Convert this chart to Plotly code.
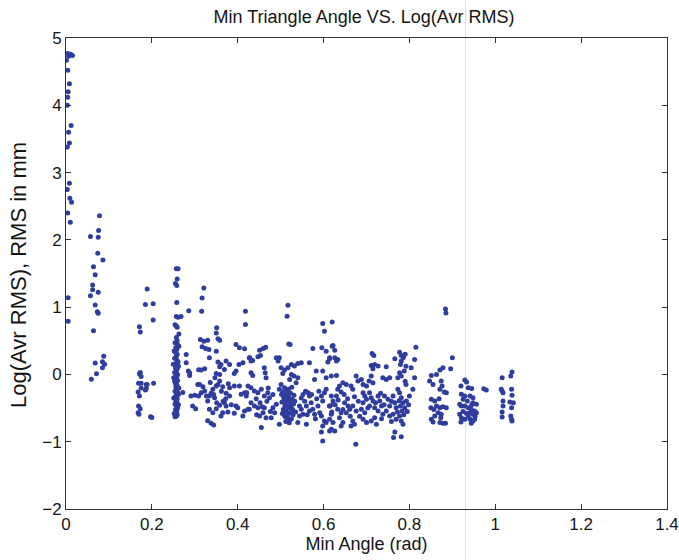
import plotly.graph_objects as go

# (min angle [rad], log(avr RMS)) pairs, grouped by angle band
band_near_zero = [
    (0.004, 4.77), (0.008, 4.75), (0.015, 4.74), (0.001, 4.67), (0.004, 4.52), (0.008, 4.32),
    (0.005, 4.20), (0.004, 4.12), (0.003, 4.00), (0.012, 3.70), (0.006, 3.60), (0.008, 3.44),
    (0.003, 3.38), (0.008, 2.84), (0.003, 2.75), (0.009, 2.62), (0.013, 2.56), (0.004, 2.40),
    (0.010, 2.26), (0.005, 1.14), (0.005, 0.79), (0.011, 4.76), (0.006, 4.73),
]
band_007 = [
    (0.078, 2.36), (0.076, 2.14), (0.057, 2.05), (0.075, 2.04), (0.074, 1.80), (0.086, 1.70),
    (0.064, 1.60), (0.068, 1.48), (0.062, 1.33), (0.062, 1.26), (0.057, 1.17), (0.075, 1.22),
    (0.068, 1.03), (0.073, 0.93), (0.075, 0.91), (0.064, 0.65), (0.088, 0.27), (0.068, 0.17),
    (0.085, 0.19), (0.090, 0.15), (0.085, 0.10), (0.071, 0.01), (0.059, -0.07),
]
band_018 = [
    (0.189, 1.27), (0.185, 1.04), (0.203, 1.05), (0.203, 0.81), (0.171, 0.71), (0.173, 0.63),
    (0.171, 0.01), (0.175, -0.03), (0.169, -0.13), (0.175, -0.13), (0.187, -0.15), (0.204, -0.13),
    (0.175, -0.20), (0.187, -0.21), (0.168, -0.26), (0.171, -0.32), (0.169, -0.47), (0.173, -0.51),
    (0.168, -0.57), (0.170, -0.59), (0.197, -0.63), (0.200, -0.64), (0.185, -0.23), (0.189, -0.15),
    (0.173, 0.03),
]
band_026 = [
    (0.257, 1.57), (0.261, 1.57), (0.259, 1.42), (0.255, 1.35), (0.258, 1.32), (0.258, 1.07),
    (0.257, 0.86), (0.261, 0.85), (0.254, 0.74), (0.257, 0.72), (0.259, 0.70), (0.257, 0.55),
    (0.259, 0.50), (0.254, 0.47), (0.260, 0.44), (0.256, 0.40), (0.258, 0.37), (0.255, 0.33),
    (0.259, 0.30), (0.257, 0.27), (0.253, 0.24), (0.258, 0.21), (0.261, 0.19), (0.256, 0.16),
    (0.258, 0.13), (0.255, 0.10), (0.259, 0.08), (0.257, 0.05), (0.253, 0.03), (0.260, 0.00),
    (0.256, -0.02), (0.258, -0.04), (0.254, -0.07), (0.260, -0.09), (0.257, -0.12), (0.255, -0.14),
    (0.259, -0.17), (0.256, -0.19), (0.258, -0.22), (0.254, -0.25), (0.260, -0.27), (0.257, -0.30),
    (0.255, -0.33), (0.259, -0.36), (0.256, -0.39), (0.258, -0.41), (0.254, -0.44), (0.257, -0.47),
    (0.260, -0.50), (0.255, -0.52), (0.258, -0.55), (0.256, -0.57), (0.259, -0.60), (0.257, -0.62),
    (0.254, -0.63), (0.268, 0.86),
    (0.263, 0.42), (0.252, 0.35), (0.262, 0.12), (0.251, -0.05), (0.263, -0.20), (0.251, -0.35),
    (0.262, -0.45), (0.252, -0.58), (0.263, 0.60), (0.250, 0.15), (0.262, -0.30), (0.253, -0.10),
]
band_028_043 = [
    (0.321, 1.284), (0.317, 1.136), (0.316, 0.938), (0.286, 0.948),
    (0.351, 0.692), (0.350, 0.617), (0.354, 0.529), (0.358, 0.509),
    (0.313, 0.519), (0.321, 0.494), (0.330, 0.509),
    (0.317, 0.41), (0.325, 0.385), (0.333, 0.37), (0.35, 0.346),
    (0.28, 0.297), (0.28, 0.173), (0.334, 0.247),
    (0.354, 0.183), (0.361, 0.148), (0.358, 0.114), (0.373, 0.198), (0.381, 0.148), (0.369, 0.074),
    (0.396, 0.445), (0.404, 0.395), (0.416, 0.38),
    (0.418, 0.938), (0.418, 0.741),
    (0.428, 0.247), (0.412, 0.173), (0.403, 0.148), (0.396, 0.05), (0.392, 0.015),
    (0.288, 0.025), (0.288, -0.015), (0.315, 0.064), (0.323, 0.084), (0.35, 0.015), (0.358, 0.0),
    (0.311, -0.148), (0.319, -0.183), (0.291, -0.32), (0.3, -0.31), (0.295, -0.469), (0.302, -0.509),
    (0.315, -0.272), (0.323, -0.247), (0.327, -0.32), (0.334, -0.32), (0.338, -0.28), (0.33, -0.395),
    (0.342, -0.222), (0.35, -0.173), (0.354, -0.148), (0.358, -0.099), (0.365, -0.183),
    (0.346, -0.346), (0.351, -0.42), (0.358, -0.459), (0.334, -0.518), (0.342, -0.568), (0.35, -0.509),
    (0.33, -0.69), (0.338, -0.726), (0.344, -0.75),
    (0.369, -0.42), (0.373, -0.469), (0.377, -0.558), (0.365, -0.568), (0.361, -0.617),
    (0.381, -0.198), (0.392, -0.173), (0.404, -0.173), (0.373, -0.28), (0.381, -0.32),
    (0.392, -0.578), (0.4, -0.494), (0.396, -0.469),
    (0.408, -0.296), (0.416, -0.272), (0.421, -0.272),
    (0.416, -0.543), (0.424, -0.518), (0.412, -0.617),
    (0.272, -0.27), (0.285, 0.05), (0.309, 0.07), (0.307, -0.15), (0.309, -0.32),
    (0.336, -0.12), (0.344, -0.30), (0.362, -0.25), (0.372, -0.36), (0.347, -0.05), (0.366, -0.40),
    (0.378, -0.14), (0.385, -0.45),
]
band_043_062 = [
    (0.517, 1.027), (0.515, 0.864), (0.519, 0.454), (0.522, 0.445),
    (0.598, 0.756), (0.602, 0.642), (0.620, 0.78), (0.575, 0.385), (0.596, 0.395), (0.620, 0.42),
    (0.451, 0.361), (0.459, 0.385), (0.465, 0.405), (0.453, 0.282), (0.447, 0.262),
    (0.427, 0.247), (0.431, 0.198), (0.435, 0.207),
    (0.49, 0.247), (0.497, 0.247), (0.494, 0.198),
    (0.525, 0.148), (0.532, 0.124), (0.517, 0.099), (0.54, 0.163), (0.548, 0.173), (0.567, 0.173),
    (0.606, 0.346), (0.614, 0.232), (0.61, 0.183),
    (0.431, 0.025), (0.435, -0.015), (0.462, 0.099), (0.464, 0.025), (0.466, -0.049),
    (0.501, 0.099), (0.509, 0.064), (0.505, 0.015),
    (0.525, 0.0), (0.531, -0.025), (0.521, -0.074), (0.54, -0.049), (0.536, -0.124),
    (0.598, 0.05), (0.606, -0.049), (0.618, -0.025), (0.583, 0.05), (0.579, -0.074),
    (0.564, -0.272), (0.567, -0.32),
    (0.424, -0.173), (0.431, -0.198), (0.42, -0.32),
    (0.439, -0.247), (0.447, -0.272), (0.455, -0.222),
    (0.462, -0.32), (0.47, -0.272), (0.474, -0.346),
    (0.431, -0.42), (0.439, -0.469), (0.427, -0.518), (0.447, -0.494),
    (0.459, -0.568), (0.451, -0.617), (0.462, -0.494), (0.466, -0.642),
    (0.482, -0.494), (0.49, -0.444), (0.486, -0.568), (0.478, -0.642),
    (0.501, -0.148), (0.509, -0.198), (0.497, -0.222),
    (0.505, -0.26), (0.512, -0.30), (0.518, -0.33), (0.523, -0.28), (0.508, -0.36), (0.515, -0.39),
    (0.521, -0.42), (0.527, -0.37), (0.510, -0.45), (0.517, -0.47), (0.524, -0.50), (0.530, -0.44),
    (0.506, -0.52), (0.513, -0.55), (0.519, -0.58), (0.526, -0.54), (0.509, -0.61), (0.516, -0.64),
    (0.522, -0.67), (0.529, -0.60), (0.512, -0.70), (0.520, -0.72), (0.514, -0.23), (0.526, -0.19),
    (0.531, -0.31), (0.503, -0.41), (0.519, -0.50), (0.512, -0.40), (0.524, -0.46), (0.517, -0.27),
    (0.544, -0.469), (0.548, -0.518), (0.552, -0.592), (0.544, -0.617), (0.56, -0.469), (0.567, -0.543),
    (0.497, -0.74), (0.455, -0.79), (0.54, -0.716), (0.56, -0.74),
    (0.575, -0.518), (0.579, -0.592), (0.591, -0.568), (0.587, -0.469),
    (0.595, -0.32), (0.598, -0.395), (0.602, -0.272), (0.606, -0.222),
    (0.595, -0.617), (0.602, -0.691), (0.598, -0.765), (0.606, -0.716),
    (0.595, -0.854), (0.598, -0.988),
    (0.614, -0.469), (0.622, -0.444), (0.618, -0.592), (0.614, -0.84),
    (0.548, -0.35), (0.556, -0.40), (0.552, -0.30), (0.571, -0.42),
    (0.507, -0.33), (0.514, -0.48), (0.521, -0.36), (0.528, -0.52), (0.504, -0.58), (0.533, -0.40),
    (0.511, -0.63), (0.525, -0.66), (0.502, -0.30), (0.535, -0.56), (0.518, -0.22), (0.509, -0.50),
    (0.443, -0.36), (0.452, -0.42), (0.468, -0.40), (0.476, -0.55), (0.457, -0.48), (0.471, -0.20),
    (0.444, -0.60), (0.482, -0.30),
    (0.558, -0.25), (0.572, -0.30), (0.584, -0.36), (0.589, -0.25), (0.562, -0.60), (0.581, -0.66),
]
band_062_082 = [
    (0.622, 0.43), (0.626, 0.36), (0.614, 0.247), (0.626, 0.247), (0.63, 0.198), (0.633, 0.222), (0.63, -0.015),
    (0.713, 0.311), (0.717, 0.282), (0.711, 0.133), (0.719, 0.148), (0.727, 0.124), (0.715, 0.084), (0.746, 0.114),
    (0.766, 0.232), (0.777, 0.331), (0.781, 0.282), (0.781, 0.198), (0.779, 0.148),
    (0.815, 0.405), (0.812, 0.222), (0.804, 0.099),
    (0.777, 0.025), (0.781, -0.025), (0.773, -0.049),
    (0.738, -0.049), (0.746, -0.074), (0.754, -0.049),
    (0.711, -0.025), (0.706, -0.099), (0.715, -0.124),
    (0.676, -0.025), (0.68, -0.099), (0.688, -0.074), (0.692, -0.148), (0.70, -0.173),
    (0.645, -0.124), (0.637, -0.173), (0.653, -0.148), (0.664, -0.173), (0.668, -0.222),
    (0.633, -0.222), (0.641, -0.262), (0.63, -0.32), (0.618, -0.32), (0.622, -0.395), (0.614, -0.469),
    (0.649, -0.42), (0.657, -0.469), (0.661, -0.518), (0.653, -0.568), (0.668, -0.469), (0.676, -0.543),
    (0.633, -0.518), (0.641, -0.568), (0.637, -0.642), (0.645, -0.716), (0.641, -0.765),
    (0.622, -0.716), (0.618, -0.815), (0.626, -0.84), (0.614, -0.667),
    (0.668, -0.691), (0.672, -0.74), (0.664, -0.765), (0.675, -1.037),
    (0.692, -0.272), (0.696, -0.32), (0.70, -0.37), (0.692, -0.42),
    (0.688, -0.518), (0.696, -0.568), (0.692, -0.667), (0.70, -0.716),
    (0.707, -0.272), (0.711, -0.346), (0.715, -0.395), (0.707, -0.469), (0.719, -0.494),
    (0.727, -0.32), (0.731, -0.395), (0.735, -0.469), (0.727, -0.543), (0.738, -0.592),
    (0.723, -0.74), (0.719, -0.642), (0.711, -0.691),
    (0.742, -0.32), (0.75, -0.37), (0.754, -0.469), (0.746, -0.543), (0.754, -0.617),
    (0.762, -0.32), (0.766, -0.42), (0.769, -0.494), (0.762, -0.592), (0.769, -0.667),
    (0.773, -0.222), (0.777, -0.272), (0.781, -0.346), (0.785, -0.42), (0.779, -0.469),
    (0.783, -0.543), (0.777, -0.617), (0.781, -0.691), (0.785, -0.74),
    (0.766, -0.854), (0.763, -0.938), (0.781, -0.928),
    (0.793, -0.395), (0.789, -0.494), (0.80, -0.32), (0.808, -0.222), (0.812, -0.049),
    (0.79, 0.30), (0.786, 0.25), (0.792, 0.12), (0.788, 0.05), (0.79, -0.10), (0.792, -0.15),
    (0.627, -0.45), (0.634, -0.38), (0.648, -0.30), (0.656, -0.36), (0.662, -0.62), (0.681, -0.40),
    (0.684, -0.62), (0.645, -0.52), (0.672, -0.33), (0.619, -0.56),
    (0.703, -0.50), (0.721, -0.42), (0.733, -0.28), (0.741, -0.45), (0.758, -0.40), (0.772, -0.56),
    (0.787, -0.60), (0.795, -0.55), (0.758, -0.70), (0.735, -0.66), (0.798, -0.45), (0.776, -0.39),
]
band_084_105 = [
    (0.884, 0.973), (0.885, 0.914),
    (0.90, 0.247), (0.878, 0.099), (0.896, 0.084), (0.871, 0.064),
    (0.863, 0.0), (0.851, -0.015), (0.847, -0.099), (0.855, -0.148),
    (0.874, -0.099), (0.876, -0.173), (0.871, -0.222), (0.881, -0.262), (0.886, -0.272),
    (0.851, -0.37), (0.859, -0.395), (0.85, -0.494), (0.863, -0.469),
    (0.867, -0.568), (0.874, -0.592), (0.871, -0.494), (0.878, -0.479), (0.886, -0.494),
    (0.859, -0.617), (0.851, -0.667), (0.855, -0.706),
    (0.873, -0.642), (0.871, -0.716), (0.878, -0.726), (0.884, -0.726),
    (0.929, -0.084), (0.933, -0.114),
    (0.92, -0.173), (0.921, -0.296), (0.929, -0.32), (0.925, -0.37),
    (0.937, -0.198), (0.945, -0.21), (0.941, -0.32), (0.948, -0.346), (0.935, -0.395),
    (0.917, -0.444), (0.921, -0.469), (0.929, -0.469), (0.937, -0.494),
    (0.944, -0.518), (0.952, -0.543), (0.956, -0.568), (0.948, -0.592), (0.941, -0.568),
    (0.917, -0.592), (0.921, -0.642), (0.92, -0.706), (0.929, -0.667),
    (0.937, -0.617), (0.941, -0.667), (0.948, -0.691), (0.952, -0.667), (0.944, -0.726),
    (0.956, -0.444), (0.948, -0.42),
    (0.973, -0.212), (0.979, -0.232),
    (1.016, -0.049), (1.039, 0.035), (1.036, -0.025),
    (1.016, -0.247), (1.018, -0.272), (1.014, -0.222),
    (1.038, -0.222), (1.039, -0.311),
    (1.018, -0.395), (1.034, -0.41), (1.042, -0.42),
    (1.018, -0.469), (1.016, -0.558),
    (1.016, -0.632), (1.036, -0.617), (1.038, -0.667), (1.039, -0.691),
    (1.038, -0.494),
    (0.857, -0.52), (0.869, -0.36), (0.925, -0.55), (0.933, -0.58), (0.945, -0.45), (0.953, -0.62),
]

x_ticks = [0, 0.2, 0.4, 0.6, 0.8, 1, 1.2, 1.4]
x_tick_labels = ["0", "0.2", "0.4", "0.6", "0.8", "1", "1.2", "1.4"]
y_ticks = [-2, -1, 0, 1, 2, 3, 4, 5]
y_tick_labels = ["\u22122", "\u22121", "0", "1", "2", "3", "4", "5"]

bands = [band_near_zero, band_007, band_018, band_026, band_028_043,
         band_043_062, band_062_082, band_084_105]
xs = [p[0] for b in bands for p in b]
ys = [p[1] for b in bands for p in b]

FONT = "Liberation Sans, Arial, Helvetica, sans-serif"
INK = "#151515"
W, H = 679, 560
ML, MR, MT, MB = 66, 12, 38, 51

fig = go.Figure()
fig.add_trace(go.Scatter(
    x=xs, y=ys, mode="markers",
    marker=dict(size=5, color="#2f3d9e", line=dict(width=0)),
    showlegend=False, hoverinfo="x+y",
))

axis_common = dict(
    showgrid=False, zeroline=False, showline=True, linecolor="#333333", linewidth=1,
    mirror="ticks", ticks="inside", ticklen=5, tickcolor="#333333", automargin=False,
    tickfont=dict(family=FONT, size=17, color=INK),
)
fig.update_xaxes(range=[0, 1.4], tickvals=x_ticks, ticktext=x_tick_labels,
                 title=dict(text="Min Angle (rad)", font=dict(family=FONT, size=18, color=INK), standoff=2),
                 **axis_common)
fig.update_yaxes(range=[-2, 5], tickvals=y_ticks, ticktext=y_tick_labels, ticklabelstandoff=0,
                 **axis_common)

plot_w = W - ML - MR
plot_h = H - MT - MB
# y-axis title placed as a rotated annotation
fig.add_annotation(
    text="Log(Avr RMS), RMS in mm", textangle=-90, showarrow=False,
    xref="paper", yref="paper", x=(18 - ML) / plot_w, y=(H - MB - 275) / plot_h,
    xanchor="center", yanchor="middle",
    font=dict(family=FONT, size=22, color=INK),
)

# faint cyan scan streak present in the reference image
fig.add_shape(type="line", xref="paper", yref="paper",
              x0=0.931 / 1.4, x1=0.931 / 1.4, y0=-0.12, y1=1.09,
              line=dict(color="#b4eeee", width=1), layer="below")

fig.update_layout(
    width=W, height=H, autosize=False,
    margin=dict(l=ML, r=MR, t=MT, b=MB, pad=0, autoexpand=False),
    paper_bgcolor="white", plot_bgcolor="white",
    title=dict(text="Min Triangle Angle VS. Log(Avr RMS)", x=364 / W, xanchor="center",
               y=1 - 17 / H, yanchor="middle",
               font=dict(family=FONT, size=18, color=INK)),
)

fig.write_html(
    "out.html",
    config={"displayModeBar": False, "responsive": False},
    post_script="document.body.style.margin='0';document.body.style.overflow='hidden';",
)
